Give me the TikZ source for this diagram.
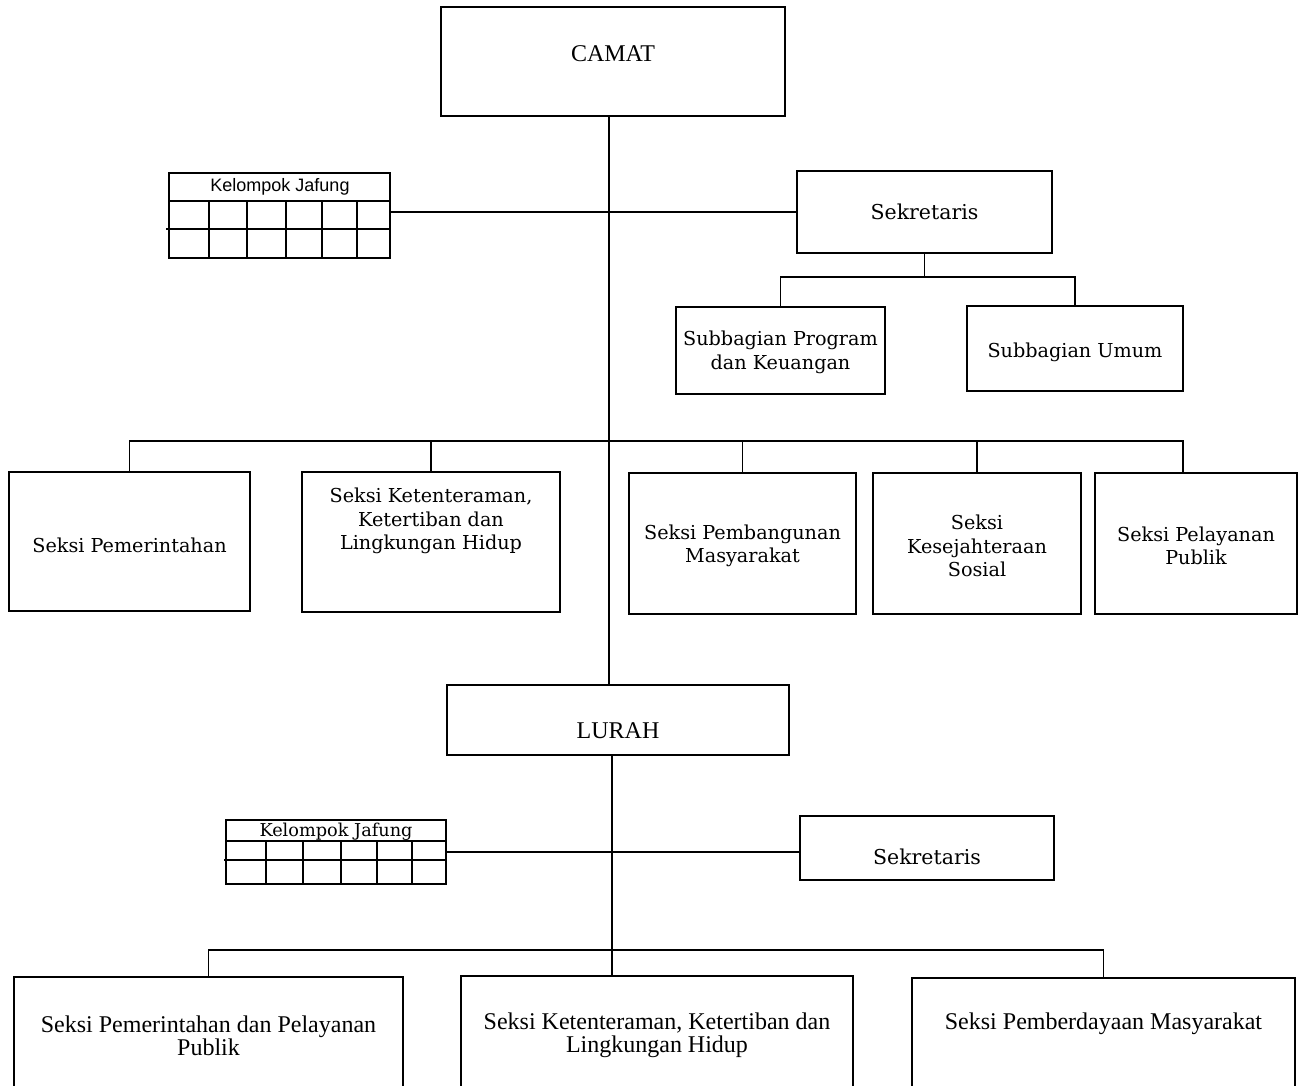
\documentclass[tikz,border=0pt]{standalone}
\usepackage{fontspec}
\setmainfont{DejaVu Serif}
\newfontfamily\jafungfont{Liberation Sans}
\newfontfamily\lowfont{Liberation Serif}
\usetikzlibrary{positioning,calc}
\tikzset{
  unit/.style={draw, line width=1.3pt, inner sep=0pt},
  unittext/.style={align=center, font=\fontsize{19.2}{23.5}\selectfont},
  headtext/.style={font=\lowfont\fontsize{24}{28}\selectfont},
  lowtext/.style={align=center, font=\lowfont\fontsize{24}{23.5}\selectfont},
  jafungtext/.style={font=\jafungfont\fontsize{18}{20}\selectfont},
  link/.style={line width=1.3pt},
}
% box with its text shifted inside
\newcommand{\orgunit}[7]{%
  \node[unit, minimum width=#4pt, minimum height=#5pt] (#1) at (#2,#3) {};
  \node[unittext] (#1-text) at ([yshift=#7]#1.center) {#6};
}
\begin{document}
\begin{tikzpicture}[x=1pt,y=-1pt]
  \useasboundingbox (0,0) rectangle (1298,1086);

  % kecamatan
  \node[unit, minimum width=344pt, minimum height=109pt] (camat) at (613,61.5) {};
  \node[headtext] (camat-text) at ([yshift=7.5pt]camat.center) {CAMAT};
  \orgunit{sek1}{924.5}{212}{255}{82}{\fontsize{20.5}{24}\selectfont Sekretaris}{0pt}
  \orgunit{sub1}{780.5}{350.5}{209}{87}{Subbagian Program\\dan Keuangan}{-2pt}
  \orgunit{sub2}{1075}{348.5}{216}{85}{Subbagian Umum}{-3.5pt}

  \orgunit{sp1}{129.5}{541.5}{241}{139}{Seksi Pemerintahan}{-3.5pt}
  \orgunit{sp2}{431}{542}{258}{140}{Seksi Ketenteraman,\\Ketertiban dan\\Lingkungan Hidup}{21pt}
  \orgunit{sp3}{742.5}{543.5}{227}{141}{Seksi Pembangunan\\Masyarakat}{-2.5pt}
  \orgunit{sp4}{977}{543.5}{208}{141}{Seksi\\Kesejahteraan\\Sosial}{-2.5pt}
  \orgunit{sp5}{1196}{543.5}{202}{141}{Seksi Pelayanan\\Publik}{-2.5pt}

  % kelompok jafung kecamatan
  \node[unit, minimum width=221pt, minimum height=85pt] (jafung1) at (279.5,215.5) {};
  \node[jafungtext] (jafung1-text) at (280,187) {Kelompok Jafung};
  \draw[link] (169,201) -- (390,201);
  \draw[link] (166,229) -- (390,229);
  \foreach \x in {209,247,286,322,357}
    \draw[link] (\x,201) -- (\x,258);

  % kelurahan
  \node[unit, minimum width=342pt, minimum height=70pt] (lurah) at (618,720) {};
  \node[headtext] (lurah-text) at ([yshift=-11pt]lurah.center) {LURAH};
  \orgunit{sek2}{927}{848}{254}{64}{\fontsize{20.5}{24}\selectfont Sekretaris}{-9pt}

  \node[unit, minimum width=389pt, minimum height=118pt] (sb1) at (208.5,1036) {};
  \node[lowtext] (sb1-text) at (sb1.center) {Seksi Pemerintahan dan Pelayanan\\Publik};
  \node[unit, minimum width=392pt, minimum height=119pt] (sb2) at (657,1035.5) {};
  \node[lowtext] (sb2-text) at (sb2.center) {Seksi Ketenteraman, Ketertiban dan\\Lingkungan Hidup};
  \node[unit, minimum width=383pt, minimum height=117pt] (sb3) at (1103.5,1036.5) {};
  \node[lowtext] (sb3-text) at ([yshift=12.5pt]sb3.center) {Seksi Pemberdayaan Masyarakat};

  % kelompok jafung kelurahan
  \node[unit, minimum width=220pt, minimum height=64pt] (jafung2) at (336,852) {};
  \node[unittext, font=\fontsize{17.7}{20}\selectfont] (jafung2-text) at (336,832) {Kelompok Jafung};
  \draw[link] (226,841) -- (446,841);
  \draw[link] (224,860) -- (446,860);
  \foreach \x in {266,303,341,377,412}
    \draw[link] (\x,841) -- (\x,884);

  % garis komando
  \coordinate (trunk1) at (609,441);
  \coordinate (sekbus) at (921,277);
  \coordinate (trunk2) at (612,950);

  \draw[link] (camat.south -| trunk1) -- (lurah.north -| trunk1);
  \draw[link] (jafung1.east |- sek1.west) -- (sek1.west);
  \draw[link] (sek1.south) -- (sek1.south |- sekbus);
  \draw[link] (sub1.north) |- (sekbus) -| (sub2.north);

  \draw[link] (sp1.north) |- (trunk1) -| ([xshift=-13pt]sp5.north);
  \foreach \s in {sp2,sp3,sp4}
    \draw[link] (\s.north) -- (\s.north |- trunk1);

  \draw[link] (lurah.south -| trunk2) -- (sb2.north -| trunk2);
  \draw[link] (sb1.north) |- (trunk2) -| (sb3.north);
  \draw[link] (jafung2.east) -- (jafung2.east -| sek2.west);

\end{tikzpicture}
\end{document}
